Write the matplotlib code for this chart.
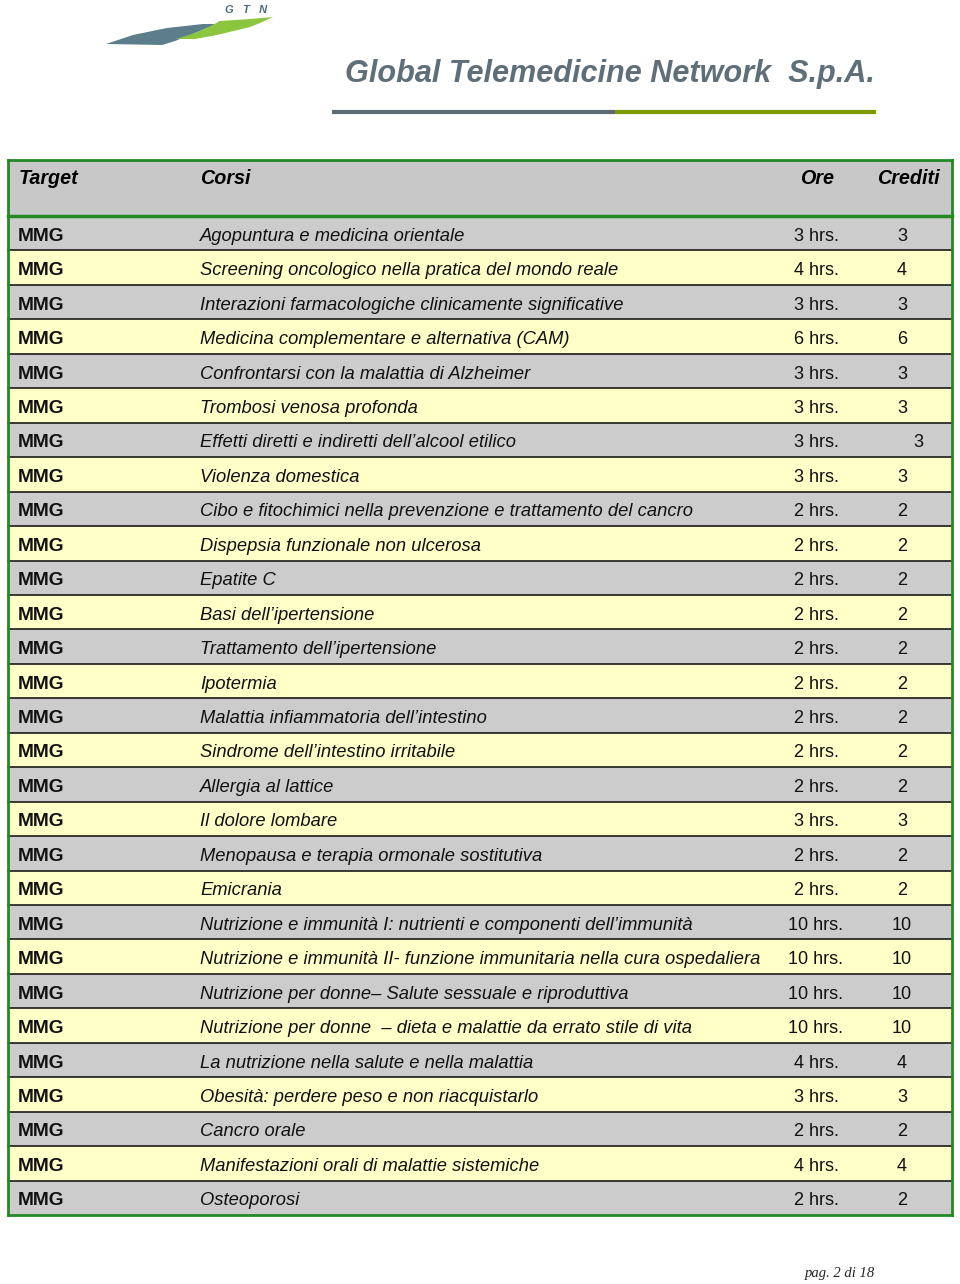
import matplotlib
matplotlib.use("Agg")
from matplotlib import pyplot as plt
from matplotlib.patches import Rectangle, Polygon

plt.rcParams['font.family'] = ['Liberation Sans', 'DejaVu Sans']

# dati della tabella
target = ['MMG'] * 29
corsi = [
    "Agopuntura e medicina orientale",
    "Screening oncologico nella pratica del mondo reale",
    "Interazioni farmacologiche clinicamente significative",
    "Medicina complementare e alternativa (CAM)",
    "Confrontarsi con la malattia di Alzheimer",
    "Trombosi venosa profonda",
    "Effetti diretti e indiretti dell\u2019alcool etilico",
    "Violenza domestica",
    "Cibo e fitochimici nella prevenzione e trattamento del cancro",
    "Dispepsia funzionale non ulcerosa",
    "Epatite C",
    "Basi dell\u2019ipertensione",
    "Trattamento dell\u2019ipertensione",
    "Ipotermia",
    "Malattia infiammatoria dell\u2019intestino",
    "Sindrome dell\u2019intestino irritabile",
    "Allergia al lattice",
    "Il dolore lombare",
    "Menopausa e terapia ormonale sostitutiva",
    "Emicrania",
    "Nutrizione e immunit\u00e0 I: nutrienti e componenti dell\u2019immunit\u00e0",
    "Nutrizione e immunit\u00e0 II- funzione immunitaria nella cura ospedaliera",
    "Nutrizione per donne\u2013 Salute sessuale e riproduttiva",
    "Nutrizione per donne  \u2013 dieta e malattie da errato stile di vita",
    "La nutrizione nella salute e nella malattia",
    "Obesit\u00e0: perdere peso e non riacquistarlo",
    "Cancro orale",
    "Manifestazioni orali di malattie sistemiche",
    "Osteoporosi",
]
ore = [3, 4, 3, 6, 3, 3, 3, 3, 2, 2, 2, 2, 2, 2, 2, 2, 2, 3, 2, 2, 10, 10, 10, 10, 4, 3, 2, 4, 2]
crediti = [3, 4, 3, 6, 3, 3, 3, 3, 2, 2, 2, 2, 2, 2, 2, 2, 2, 3, 2, 2, 10, 10, 10, 10, 4, 3, 2, 4, 2]
header = ["Target", "Corsi", "Ore", "Crediti"]

W, H = 960, 1284
fig = plt.figure(figsize=(W / 100, H / 100), dpi=100)
ax = fig.add_axes([0, 0, 1, 1])
ax.set_xlim(0, W)
ax.set_ylim(H, 0)
ax.axis('off')

# logo
ax.add_patch(Polygon([(106, 44), (133, 35), (167, 28), (203, 24), (216, 24),
                      (200, 31), (185, 37), (175, 41), (162, 45)], closed=True,
                     facecolor='#5c7d8a', edgecolor='none'))
ax.add_patch(Polygon([(176, 39), (195, 33), (207, 28), (220, 21), (250, 19),
                      (273, 17), (260, 23), (250, 27), (217, 35), (195, 39)], closed=True,
                     facecolor='#8cc63f', edgecolor='none'))
ax.text(246, 10, "G   T   N", fontsize=8, fontweight='bold', fontstyle='italic',
        color='#4e6c7a', ha='center', va='center')

# titolo
ax.text(875, 74, "Global Telemedicine Network  S.p.A.", fontsize=22.1,
        fontweight='bold', fontstyle='italic', color='#5f6f7a',
        ha='right', va='center')
ax.plot([332, 615], [112, 112], color='#5f6b73', lw=3, solid_capstyle='butt')
ax.plot([615, 876], [112, 112], color='#7a9a00', lw=3, solid_capstyle='butt')

# tabella
x0, x1 = 8, 952
top, head_bot = 160, 216
step = 34.45
n = len(corsi)
bottom = head_bot + n * step

ax.add_patch(Rectangle((x0, top), x1 - x0, head_bot - top, facecolor='#c8c8c8', edgecolor='none'))
for i in range(n):
    y = head_bot + i * step
    color = '#cccccc' if i % 2 == 0 else '#ffffc8'
    ax.add_patch(Rectangle((x0, y), x1 - x0, step, facecolor=color, edgecolor='none'))
    if i > 0:
        ax.plot([x0, x1], [y, y], color='#1a1a1a', lw=1.2)
    yc = y + step / 2 + 3
    ax.text(18, yc, target[i], fontsize=13.8, fontweight='bold', color='#111111', va='center')
    ax.text(200, yc, corsi[i], fontsize=13.2, fontstyle='italic', color='#111111', va='center')
    ax.text(816, yc, f"{ore[i]} hrs.", fontsize=13, color='#111111', va='center', ha='center')
    cx = 918 if i == 6 else 902
    ax.text(cx, yc, str(crediti[i]), fontsize=13, color='#111111', va='center', ha='center')

hy = 179
ax.text(19, hy, header[0], fontsize=14.2, fontweight='bold', fontstyle='italic', va='center')
ax.text(200, hy, header[1], fontsize=14.2, fontweight='bold', fontstyle='italic', va='center')
ax.text(817, hy, header[2], fontsize=14.2, fontweight='bold', fontstyle='italic', va='center', ha='center')
ax.text(908, hy, header[3], fontsize=14.2, fontweight='bold', fontstyle='italic', va='center', ha='center')

green = '#238a23'
ax.plot([x0, x1], [top, top], color=green, lw=2)
ax.plot([x0, x1], [head_bot, head_bot], color=green, lw=2.5)
ax.plot([x0, x1], [bottom, bottom], color=green, lw=2)
ax.plot([x0, x0], [top, bottom], color=green, lw=2)
ax.plot([x1, x1], [top, bottom], color=green, lw=2)

# piè di pagina
ax.text(840, 1274, "pag. 2 di 18", fontsize=10.5, fontstyle='italic',
        family=['Liberation Serif', 'DejaVu Serif'], ha='center', va='center', color='#222222')

fig.savefig('out.png', dpi=100)
